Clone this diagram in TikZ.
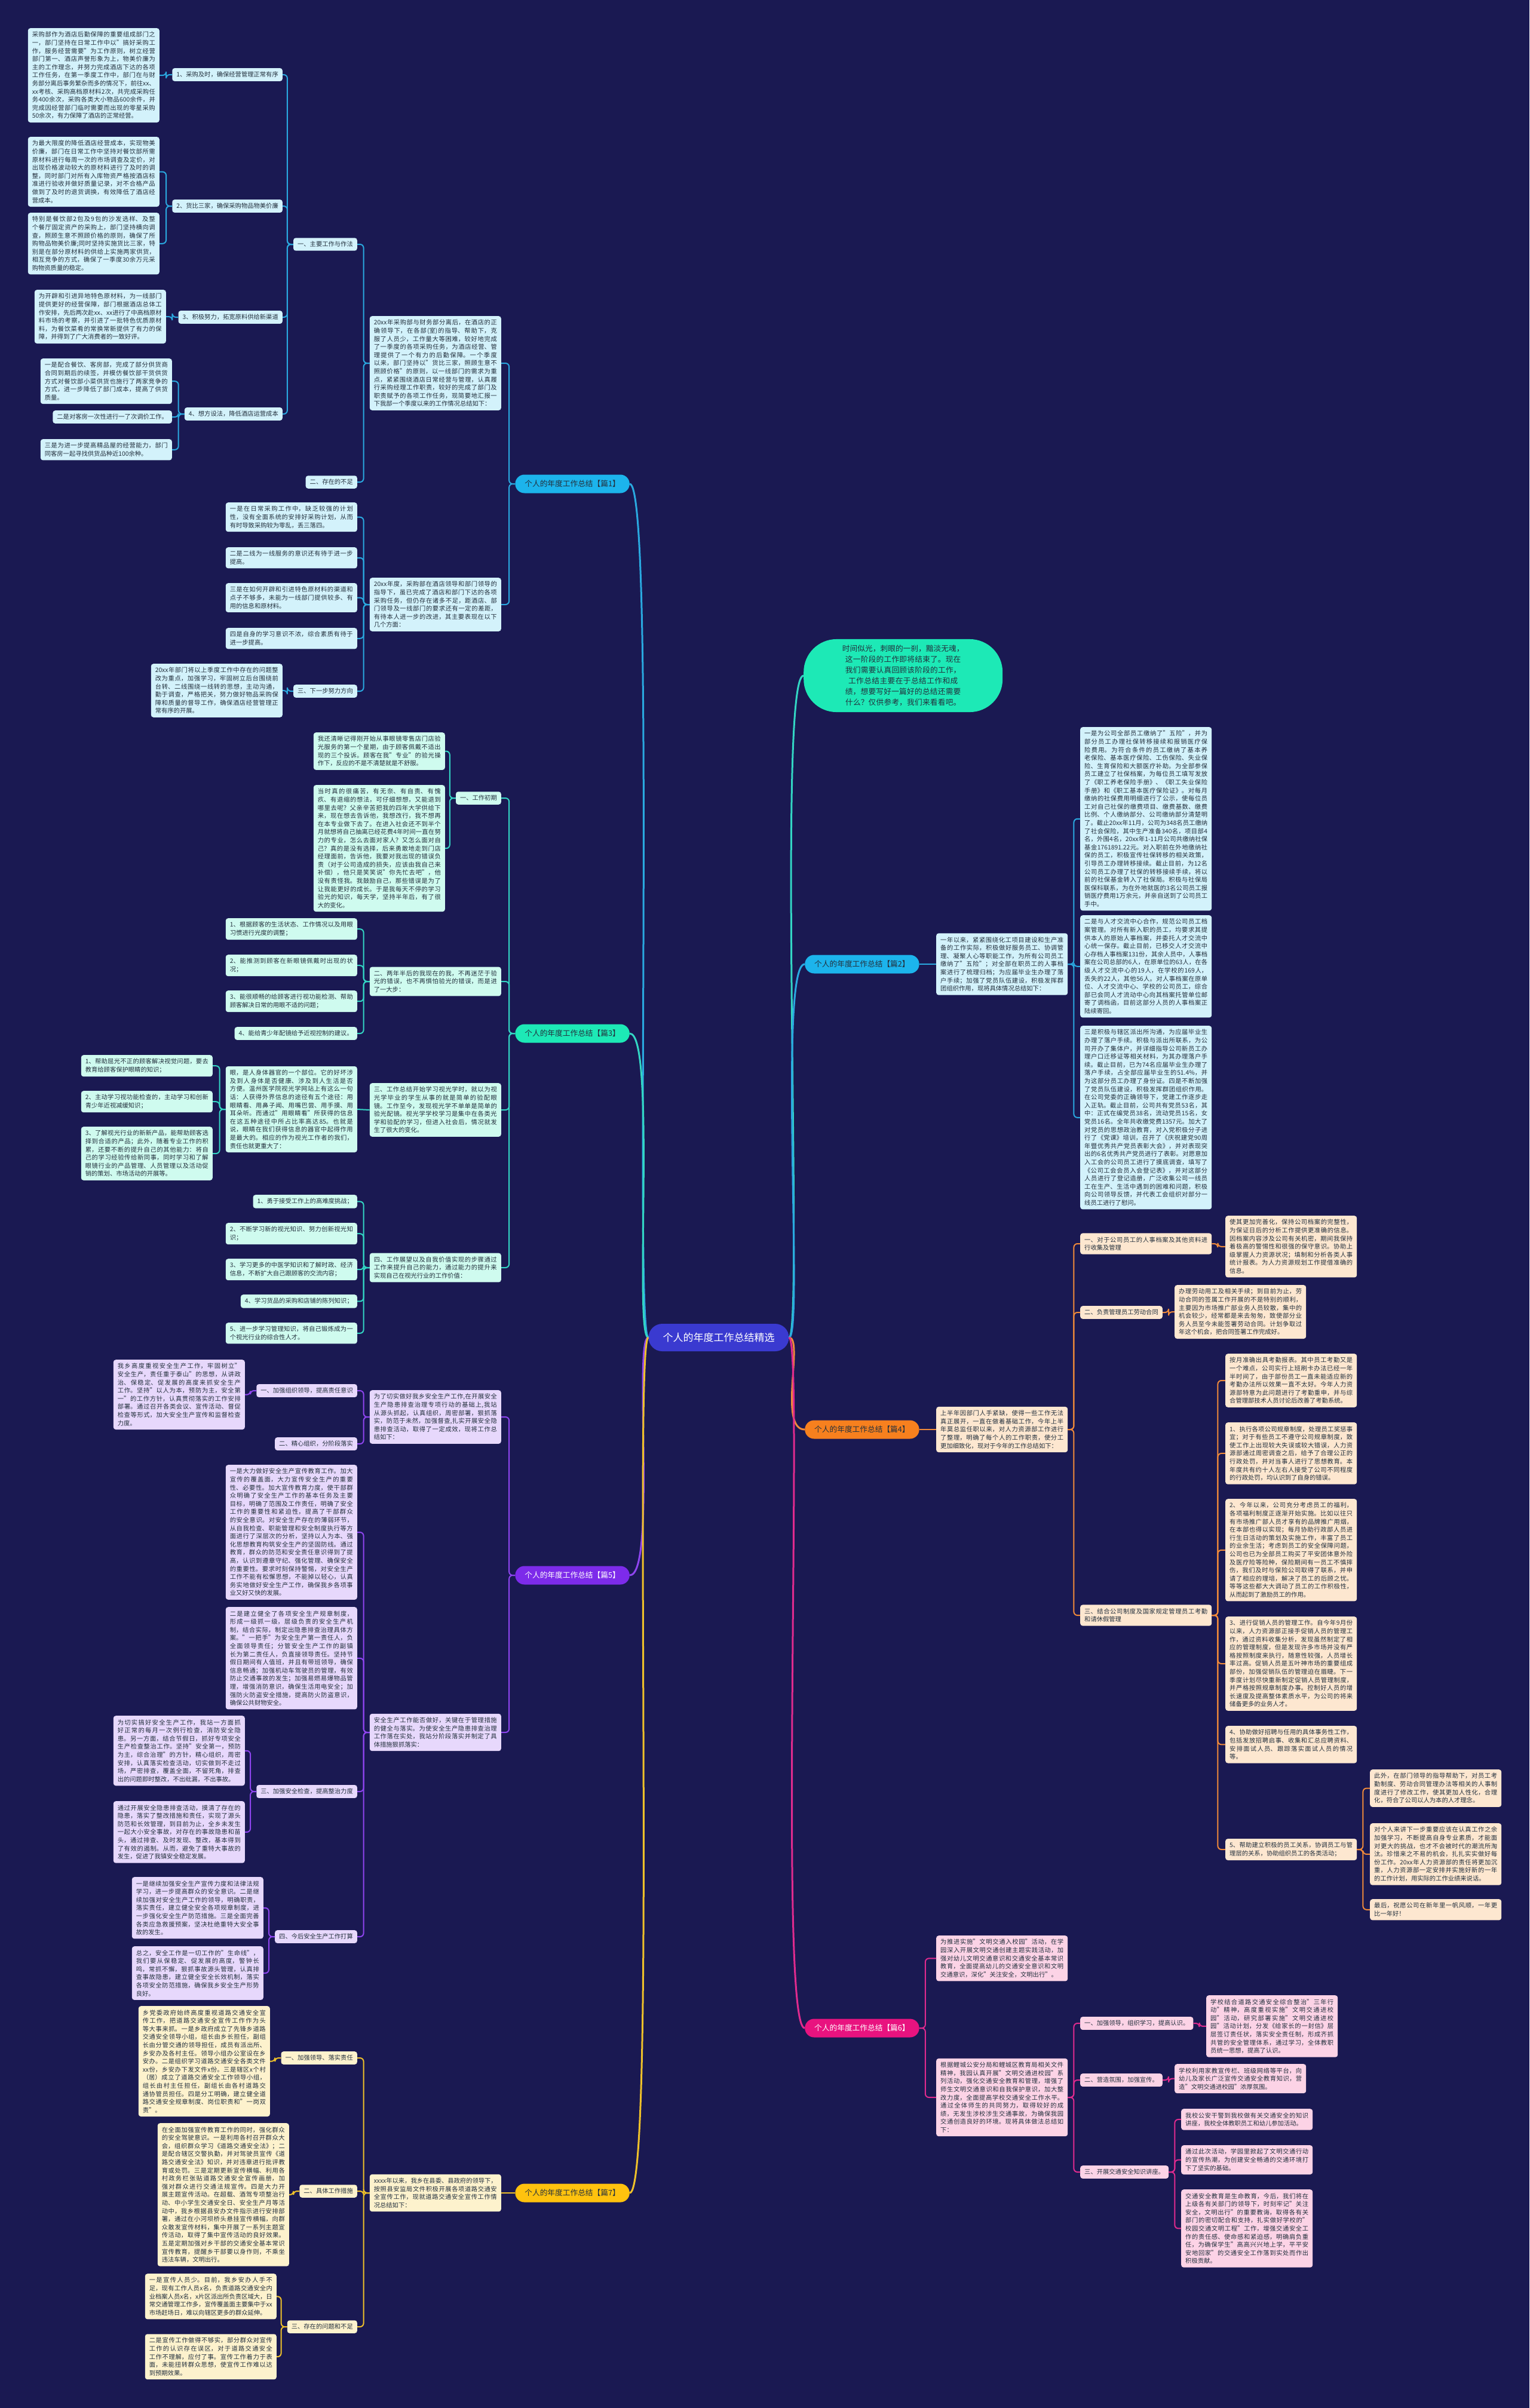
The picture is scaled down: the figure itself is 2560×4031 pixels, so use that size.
\documentclass[tikz,border=0pt]{standalone}
\usepackage{fontspec}
\setmainfont{Noto Sans CJK SC}
\usetikzlibrary{positioning}
\XeTeXlinebreaklocale "zh"
\XeTeXlinebreakskip=0pt plus 1pt
\definecolor{bgnavy}{HTML}{1A1952}
\definecolor{hubblue}{HTML}{3A3AD0}
\definecolor{inktext}{HTML}{23303D}
\definecolor{pianA}{HTML}{1CB4EC}
\definecolor{lineA}{HTML}{2AA9E0}
\definecolor{leafA}{HTML}{D3F2FB}
\definecolor{pianB}{HTML}{1DE9B6}
\definecolor{lineB}{HTML}{33D6C4}
\definecolor{leafB}{HTML}{CFFBEF}
\definecolor{pianC}{HTML}{F7801E}
\definecolor{lineC}{HTML}{F08A3A}
\definecolor{leafC}{HTML}{FDE7D0}
\definecolor{pianD}{HTML}{7D2BEA}
\definecolor{lineD}{HTML}{8F45F0}
\definecolor{leafD}{HTML}{E7D8FC}
\definecolor{pianE}{HTML}{E8137F}
\definecolor{lineE}{HTML}{E02B8E}
\definecolor{leafE}{HTML}{FCD3E6}
\definecolor{pianF}{HTML}{FFC20E}
\definecolor{lineF}{HTML}{EFC12A}
\definecolor{leafF}{HTML}{FDF2CD}
\newcommand\leafsize{\fontsize{10.3pt}{13.6pt}\selectfont}
\newcommand\piansize{\fontsize{12.7pt}{15pt}\selectfont}
\newcommand\hubsize{\fontsize{17pt}{20pt}\selectfont}
\newcommand\introsize{\fontsize{12.7pt}{18pt}\selectfont}
\tikzset{
  box/.style={rounded corners=4pt, inner xsep=7pt, inner ysep=6pt, text=inktext, font=\leafsize},
  para/.style={box, text width=206pt, align=justify},
  tag/.style={box},
  pian/.style={rounded corners=15.5pt, minimum height=31pt, inner xsep=16pt, text=inktext, font=\piansize},
  hub/.style={rounded corners=23pt, minimum height=46pt, inner xsep=24pt, fill=hubblue, text=white, font=\hubsize},
  introbox/.style={rounded corners=55pt, fill=pianB, text=inktext, font=\introsize, text width=205pt, align=center, inner xsep=64pt, inner ysep=10pt},
  link/.style={line width=2pt, rounded corners=6pt},
  spoke/.style={line width=3pt},
}
\begin{document}
\begin{tikzpicture}[x=1pt,y=-1pt]
\fill[bgnavy] (0,0) rectangle (2560,4031);
\useasboundingbox (0,0) rectangle (2560,4031);

\node[hub] (hub) at (1203,2239) {个人的年度工作总结精选};

% intro
\node[introbox, anchor=west] (intro) at (1345,1131) {时间似光，刺眼的一刹，黯淡无魂，这一阶段的工作即将结束了。现在我们需要认真回顾该阶段的工作，工作总结主要在于总结工作和成绩，想要写好一篇好的总结还需要什么？仅供参考，我们来看看吧。};

% ---------- 篇1
\begin{scope}[box/.append style={fill=leafA}, link/.append style={draw=lineA}]
\node[pian, fill=pianA, anchor=east] (b1) at (1054,810) {个人的年度工作总结【篇1】};
\node[para, anchor=east] (p1a) at (839,608) {20xx年采购部与财务部分离后，在酒店的正确领导下，在各部(室)的指导、帮助下，克服了人员少，工作量大等困难，较好地完成了一季度的各项采购任务，为酒店经营、管理提供了一个有力的后勤保障。一个季度以来，部门坚持以"货比三家，照顾生意不照顾价格"的原则，以一线部门的需求为重点，紧紧围绕酒店日常经营与管理，认真履行采购经理工作职责，较好的完成了部门及职责赋予的各项工作任务，现简要地汇报一下我部一个季度以来的工作情况总结如下：};
\node[para, anchor=east] (p1b) at (839,1012) {20xx年度，采购部在酒店领导和部门领导的指导下，虽已完成了酒店和部门下达的各项采购任务，但仍存在诸多不足，距酒店、部门领导及一线部门的要求还有一定的差距，有待本人进一步的改进，其主要表现在以下几个方面：};
\node[tag, anchor=east] (zy) at (598,409) {一、主要工作与作法};
\node[tag, anchor=east] (bz) at (598,807) {二、存在的不足};
\node[tag, anchor=east] (zy1) at (473,125) {1、采购及时，确保经营管理正常有序};
\node[tag, anchor=east] (zy2) at (473,345) {2、货比三家，确保采购物品物美价廉};
\node[tag, anchor=east] (zy3) at (473,531) {3、积极努力，拓宽原料供给新渠道};
\node[tag, anchor=east] (zy4) at (473,693) {4、想方设法，降低酒店运营成本};
\node[para, anchor=north east] (cg1) at (267,47) {采购部作为酒店后勤保障的重要组成部门之一，部门坚持在日常工作中以"搞好采购工作，服务经营需要"为工作原则，树立经营部门第一、酒店声誉形象为上，物美价廉为主的工作理念，并努力完成酒店下达的各项工作任务，在第一季度工作中，部门在与财务部分离后事务繁杂而多的情况下，前往xx、xx考核、采购高档原材料2次，共完成采购任务400余次，采购各类大小物品600余件，并完成因经营部门临时需要而出现的零星采购50余次，有力保障了酒店的正常经营。};
\node[para, anchor=north east] (cg2) at (267,229) {为最大限度的降低酒店经营成本，实现物美价廉，部门在日常工作中坚持对餐饮部所需原材料进行每周一次的市场调查及定价，对出现价格波动较大的原材料进行了及时的调整，同时部门对所有入库物资严格按酒店标准进行验收并做好质量记录，对不合格产品做到了及时的退货调换，有效降低了酒店经营成本。};
\node[para, anchor=north east] (cg3) at (267,356) {特别是餐饮部2包及9包的沙发选样、及整个餐厅固定资产的采购上，部门坚持横向调查，照顾生意不照顾价格的原则，确保了所购物品物美价廉;同时坚持实施货比三家，特别是在部分原材料的供给上实施两家供货，相互竞争的方式，确保了一季度30余万元采购物资质量的稳定。};
\node[para, anchor=north east] (cg4) at (278,485) {为开辟和引进异地特色原材料，为一线部门提供更好的经营保障，部门根据酒店总体工作安排，先后两次赴xx、xx进行了中高档原材料市场的考察，并引进了一批特色优质原材料，为餐饮菜肴的常换常新提供了有力的保障，并得到了广大消费者的一致好评。};
\node[para, anchor=north east] (cg5) at (288,600) {一是配合餐饮、客房部，完成了部分供货商合同到期后的续签，并模仿餐饮部干货供货方式对餐饮部小菜供货也施行了两家竞争的方式，进一步降低了部门成本，提高了供货质量。};
\node[tag, anchor=north east] (cg6) at (288,687) {二是对客房一次性进行一了次调价工作。};
\node[para, anchor=north east] (cg7) at (288,735) {三是为进一步提高精品屋的经营能力，部门同客房一起寻找供货品种近100余种。};
\node[para, anchor=north east] (bz1) at (598,841) {一是在日常采购工作中，缺乏较强的计划性，没有全面系统的安排好采购计划，从而有时导致采购较为零乱，丢三落四。};
\node[para, anchor=north east] (bz2) at (598,916) {二是二线为一线服务的意识还有待于进一步提高。};
\node[para, anchor=north east] (bz3) at (598,976) {三是在如何开辟和引进特色原材料的渠道和点子不够多，未能为一线部门提供较多、有用的信息和原材料。};
\node[para, anchor=north east] (bz4) at (598,1051) {四是自身的学习意识不浓，综合素质有待于进一步提高。};
\node[tag, anchor=east] (fx) at (598,1157) {三、下一步努力方向};
\node[para, anchor=north east] (fx1) at (473,1111) {20xx年部门将以上季度工作中存在的问题整改为重点，加强学习，牢固树立后台围绕前台转、二线围绕一线转的思想，主动沟通，勤于调查，严格把关，努力做好物品采购保障和质量的督导工作，确保酒店经营管理正常有序的开展。};
\foreach \c in {p1a,p1b} \draw[link] (b1.west) -- ++(-10,0) |- (\c.east);
\foreach \c in {zy,bz} \draw[link] (p1a.west) -- ++(-10,0) |- (\c.east);
\foreach \c in {zy1,zy2,zy3,zy4} \draw[link] (zy.west) -- ++(-10,0) |- (\c.east);
\draw[link] (zy1.west) -- ++(-10,0) |- (cg1.east);
\foreach \c in {cg2,cg3} \draw[link] (zy2.west) -- ++(-10,0) |- (\c.east);
\draw[link] (zy3.west) -- ++(-10,0) |- (cg4.east);
\foreach \c in {cg5,cg6,cg7} \draw[link] (zy4.west) -- ++(-10,0) |- (\c.east);
\foreach \c in {bz1,bz2,bz3,bz4,fx} \draw[link] (p1b.west) -- ++(-10,0) |- (\c.east);
\draw[link] (fx.west) -- ++(-10,0) |- (fx1.east);
\end{scope}

% ---------- 篇2
\begin{scope}[box/.append style={fill=leafA}, link/.append style={draw=lineA}]
\node[pian, fill=pianA, anchor=west] (b2) at (1347,1614) {个人的年度工作总结【篇2】};
\node[para, anchor=west] (p2) at (1567,1614) {一年以来，紧紧围绕化工项目建设和生产准备的工作实际，积极做好服务员工、协调管理、凝聚人心等职能工作，为所有公司员工缴纳了"五险"；对全部在职员工的人事档案进行了梳理归档；为应届毕业生办理了落户手续；加强了党员队伍建设，积极发挥群团组织作用，现将具体情况总结如下：};
\node[para, anchor=north west] (p2a) at (1808,1217) {一是为公司全部员工缴纳了"五险"，并为部分员工办理社保转移接续和报销医疗保险费用。为符合条件的员工缴纳了基本养老保险、基本医疗保险、工伤保险、失业保险、生育保险和大额医疗补助。为全部参保员工建立了社保档案，为每位员工填写发放了《职工养老保险手册》、《职工失业保险手册》和《职工基本医疗保险证》。对每月缴纳的社保费用明细进行了公示，使每位员工对自己社保的缴费项目、缴费基数、缴费比例、个人缴纳部分、公司缴纳部分清楚明了。截止20xx年11月，公司为348名员工缴纳了社会保险，其中生产准备340名，项目部4名，外围4名，20xx年1-11月公司共缴纳社保基金1761891.22元。对入职前在外地缴纳社保的员工，积极宣传社保转移的相关政策，引导员工办理转移接续。截止目前，为12名公司员工办理了社保的转移接续手续，将以前的社保基金转入了社保局。积极与社保局医保科联系，为在外地就医的3名公司员工报销医疗费用1万余元，并亲自送到了公司员工手中。};
\node[para, anchor=north west] (p2b) at (1808,1532) {二是与人才交流中心合作，规范公司员工档案管理。对所有新入职的员工，均要求其提供本人的原始人事档案，并委托人才交流中心统一保存。截止目前，已移交人才交流中心存档人事档案131份，其余人员中，人事档案在公司总部的6人，在原单位的63人，在各级人才交流中心的19人，在学校的169人，丢失的22人，其他56人。对人事档案在原单位、人才交流中心、学校的公司员工，综合部已会同人才流动中心向其档案托管单位邮寄了调档函，目前这部分人员的人事档案正陆续寄回。};
\node[para, anchor=north west] (p2c) at (1808,1717) {三是积极与辖区派出所沟通，为应届毕业生办理了落户手续。积极与派出所联系，为公司开办了集体户，并详细指导公司新员工办理户口迁移证等相关材料，为其办理落户手续。截止目前，已为74名应届毕业生办理了落户手续，占全部应届毕业生的51.4\%，并为这部分员工办理了身份证。四是不断加强了党员队伍建设，积极发挥群团组织作用。在公司党委的正确领导下，党建工作逐步走入正轨。截止目前，公司共有党员53名，其中：正式在编党员38名，流动党员15名，女党员16名。全年共收缴党费1357元。加大了对党员的思想政治教育，对入党积极分子进行了《党课》培训，召开了《庆祝建党90周年暨优秀共产党员表彰大会》，并对表现突出的6名优秀共产党员进行了表彰。对愿意加入工会的公司员工进行了摸底调查，填写了《公司工会会员入会登记表》，并对这部分人员进行了登记造册，广泛收集公司一线员工在生产、生活中遇到的困难和问题，积极向公司领导反馈，并代表工会组织对部分一线员工进行了慰问。};
\draw[link] (b2.east) -- (p2.west);
\foreach \c in {p2a,p2b,p2c} \draw[link] (p2.east) -- ++(10,0) |- (\c.west);
\end{scope}

% ---------- 篇3
\begin{scope}[box/.append style={fill=leafB}, link/.append style={draw=lineB}]
\node[pian, fill=pianB, anchor=east] (b3) at (1054,1730) {个人的年度工作总结【篇3】};
\node[tag, anchor=east] (cq) at (839,1336) {一、工作初期};
\node[para, anchor=north east] (cq1) at (745,1226) {我还清晰记得刚开始从事眼镜零售店门店验光服务的第一个星期，由于顾客佩戴不适出现的三个投诉。顾客在我"专业"的验光操作下，反应的不是不清楚就是不舒服。};
\node[para, anchor=north east] (cq2) at (745,1314) {当时真的很痛苦，有无奈、有自责、有愧疚、有退缩的想法，可仔细想想，又能退到哪里去呢？父亲辛苦把我的四年大学供给下来，现在想去告诉他，我想改行，我不想再在本专业做下去了。在进入社会还不到半个月就想将自己抽离已经花费4年时间一直在努力的专业，怎么去面对家人？又怎么面对自己？真的是没有选择，后来勇敢地走到门店经理面前，告诉他，我要对我出现的错误负责（对于公司造成的损失，应该由我自己来补偿），他只是笑笑说"你先忙去吧"，他没有责怪我。我鼓励自己，那些错误是为了让我能更好的成长。于是我每天不停的学习验光的知识，每天学，坚持半年后，有了很大的变化。};
\node[para, anchor=east] (lh) at (839,1643) {二、两年半后的我现在的我，不再迷茫于验光的错误，也不再惧怕验光的错误，而是进了一大步：};
\node[para, anchor=north east] (lh1) at (598,1537) {1、根据顾客的生活状态、工作情况以及用眼习惯进行光度的调整；};
\node[para, anchor=north east] (lh2) at (598,1598) {2、能推测到顾客在新眼镜佩戴时出现的状况；};
\node[para, anchor=north east] (lh3) at (598,1658) {3、能很顺畅的给顾客进行视功能检测、帮助顾客解决日常的用眼不适的问题；};
\node[tag, anchor=north east] (lh4) at (598,1719) {4、能给青少年配镜给予近视控制的建议。};
\node[para, anchor=east] (zj) at (839,1858) {三、工作总结开始学习视光学时，就以为视光学毕业的学生从事的就是简单的验配眼镜。工作至今，发现视光学不单单是简单的验光配镜。视光学学校学习是集中在各类光学和验配的学习，但进入社会后，情况就发生了很大的变化。};
\node[para, anchor=east] (yan) at (598,1857) {眼，是人身体器官的一个部位。它的好坏涉及到人身体是否健康、涉及到人生活是否方便。温州医学院视光学网站上有这么一句话：人获得外界信息的途径有五个途径：用眼睛看、用鼻子闻、用嘴巴尝、用手摸、用耳朵听。而通过"用眼睛看"所获得的信息在这五种途径中所占比率高达85。也就是说，眼睛在我们获得信息的器官中起得作用是最大的。相应的作为视光工作者的我们，责任也就更重大了：};
\node[para, anchor=north east] (yan1) at (356,1766) {1、帮助屈光不正的顾客解决视觉问题，要去教育给顾客保护眼睛的知识；};
\node[para, anchor=north east] (yan2) at (356,1826) {2、主动学习视功能检查的，主动学习和创新青少年近视减缓知识；};
\node[para, anchor=north east] (yan3) at (356,1886) {3、了解视光行业的新新产品，能帮助顾客选择到合适的产品；此外，随着专业工作的积累，还要不断的提升自己的其他能力：将自己的学习经验传给新同事，同时学习和了解眼镜行业的产品管理、人员管理以及活动促销的策划、市场活动的开展等。};
\node[para, anchor=east] (zw) at (839,2122) {四、工作展望以及自我价值实现的步骤通过工作来提升自己的能力，通过能力的提升来实现自己在视光行业的工作价值：};
\node[tag, anchor=north east] (zw1) at (598,2000) {1、勇于接受工作上的高难度挑战；};
\node[para, anchor=north east] (zw2) at (598,2047) {2、不断学习新的视光知识、努力创新视光知识；};
\node[para, anchor=north east] (zw3) at (598,2107) {3、学习更多的中医学知识和了解时政、经济信息，不断扩大自己跟顾客的交流内容；};
\node[tag, anchor=north east] (zw4) at (598,2167) {4、学习货品的采购和店铺的陈列知识；};
\node[para, anchor=north east] (zw5) at (598,2214) {5、进一步学习管理知识，将自己锻炼成为一个视光行业的综合性人才。};
\foreach \c in {cq,lh,zj,zw} \draw[link] (b3.west) -- ++(-10,0) |- (\c.east);
\foreach \c in {cq1,cq2} \draw[link] (cq.west) -- ++(-10,0) |- (\c.east);
\foreach \c in {lh1,lh2,lh3,lh4} \draw[link] (lh.west) -- ++(-10,0) |- (\c.east);
\draw[link] (zj.west) -- (yan.east);
\foreach \c in {yan1,yan2,yan3} \draw[link] (yan.west) -- ++(-10,0) |- (\c.east);
\foreach \c in {zw1,zw2,zw3,zw4,zw5} \draw[link] (zw.west) -- ++(-10,0) |- (\c.east);
\end{scope}

% ---------- 篇4
\begin{scope}[box/.append style={fill=leafC}, link/.append style={draw=lineC}]
\node[pian, fill=pianC, anchor=west] (b4) at (1347,2393) {个人的年度工作总结【篇4】};
\node[para, anchor=west] (rz) at (1567,2393) {上半年因部门人手紧缺，使得一些工作无法真正展开，一直在做着基础工作，今年上半年莫总监任职以来，对人力资源部工作进行了整理，明确了每个人的工作职责，使分工更加细致化，现对于今年的工作总结如下：};
\node[para, anchor=west] (da) at (1808,2082) {一、对于公司员工的人事档案及其他资料进行收集及管理};
\node[para, anchor=north west] (da1) at (2051,2035) {使其更加完善化，保持公司档案的完整性，为保证日后的分析工作提供更准确的信息。因档案内容涉及公司有关机密，期间我保持着极高的警惕性和很强的保守意识。协助上级掌握人力资源状况；填制和分析各类人事统计报表。为人力资源规划工作提借准确的信息。};
\node[tag, anchor=west] (ht) at (1808,2197) {二、负责管理员工劳动合同};
\node[para, anchor=north west] (ht1) at (1966,2151) {办理劳动用工及相关手续；到目前为止，劳动合同的签属工作开展的不是特别的顺利，主要因为市场推广部业务人员较散，集中的机会较少，经常都是来去匆匆，致使部分业务人员至今未能签署劳动合同。计划争取过年这个机会，把合同签署工作完成好。};
\node[para, anchor=west] (kq) at (1808,2704) {三、结合公司制度及国家规定管理员工考勤和请休假管理};
\node[para, anchor=north west] (kq0) at (2051,2266) {按月准确出具考勤报表。其中员工考勤又是一个难点，公司实行上班刷卡办法已经一年半时间了，由于部份员工一直未能适应新的考勤办法所以效果一直不太好。今年人力资源部特意为此问题进行了考勤重申，并与综合管理部技术人员讨论后改善了考勤系统。};
\node[para, anchor=north west] (kq1) at (2051,2381) {1、执行各项公司规章制度，处理员工奖惩事宜；对于有些员工不遵守公司规章制度，致使工作上出现较大失误或较大错误，人力资源部通过周密调查之后，给予了合理公正的行政处罚，并对当事人进行了思想教育。本年度共有约十人左右人接受了公司不同程度的行政处罚，均认识到了自身的错误。};
\node[para, anchor=north west] (kq2) at (2051,2509) {2、今年以来，公司充分考虑员工的福利，各项福利制度正逐渐开始实施。比如以往只有市场推广部人员才享有的品牌推广用烟，在本部也得以实现；每月协助行政部人员进行生日活动的策划及实施工作，丰富了员工的业余生活；考虑到员工的安全保障问题，公司也已为全部员工购买了平安团体意外险及医疗险等险种，保险期间有一员工不慎摔伤，我们及时与保险公司取得了联系，并申请了相应的理培，解决了员工的后顾之忧。等等这些都大大调动了员工的工作积极性，从而起到了激励员工的作用。};
\node[para, anchor=north west] (kq3) at (2051,2706) {3、进行促销人员的管理工作。自今年9月份以来，人力资源部正接手促销人员的管理工作，通过资料收集分析，发现虽然制定了相应的管理制度，但是发现许多市场并没有严格按照制度来执行，随意性较强，人员增长率过高。促销人员是五叶神市场的重要组成部份，加强促销队伍的管理迫在眉睫。下一季度计划尽快重新制定促销人员管理制度，并严格按照规章制度办事。控制好人员的增长速度及提高整体素质水平，为公司的将来储备更多的业务人才。};
\node[para, anchor=north west] (kq4) at (2051,2889) {4、协助做好招聘与任用的具体事务性工作，包括发放招聘启事、收集和汇总应聘资料、安排面试人员、跟踪落实面试人员的情况等。};
\node[para, anchor=west] (kq5) at (2051,3096) {5、帮助建立积极的员工关系，协调员工与管理层的关系，协助组织员工的各类活动；};
\node[para, anchor=north west] (gx1) at (2293,2962) {此外，在部门领导的指导帮助下，对员工考勤制度、劳动合同管理办法等相关的人事制度进行了修改工作，使其更加人性化，合理化，符合了公司以人为本的人才理念。};
\node[para, anchor=north west] (gx2) at (2293,3052) {对个人来讲下一步重要应该在认真工作之余加强学习，不断提高自身专业素质，才能面对更大的挑战，也才不会被时代的潮流所淘汰。珍惜来之不易的机会，扎扎实实做好每份工作。20xx年人力资源部的责任将更加沉重，人力资源部一定安排并实施好新的一年的工作计划，用实际的工作业绩来说话。};
\node[para, anchor=north west] (gx3) at (2293,3179) {最后，祝愿公司在新年里一帆风顺，一年更比一年好！};
\draw[link] (b4.east) -- (rz.west);
\foreach \c in {da,ht,kq} \draw[link] (rz.east) -- ++(10,0) |- (\c.west);
\draw[link] (da.east) -- ++(10,0) |- (da1.west);
\draw[link] (ht.east) -- ++(10,0) |- (ht1.west);
\foreach \c in {kq0,kq1,kq2,kq3,kq4,kq5} \draw[link] (kq.east) -- ++(10,0) |- (\c.west);
\foreach \c in {gx1,gx2,gx3} \draw[link] (kq5.east) -- ++(10,0) |- (\c.west);
\end{scope}

% ---------- 篇5
\begin{scope}[box/.append style={fill=leafD}, link/.append style={draw=lineD}]
\node[pian, fill=pianD, text=white, anchor=east] (b5) at (1054,2637) {个人的年度工作总结【篇5】};
\node[para, anchor=east] (aq) at (839,2372) {为了切实做好我乡安全生产工作,在开展安全生产隐患排查治理专项行动的基础上,我站从源头抓起，认真组织，周密部署，狠抓落实，防范于未然，加强督查,扎实开展安全隐患排查活动，取得了一定成效，现将工作总结如下：};
\node[tag, anchor=east] (aq1) at (598,2328) {一、加强组织领导，提高责任意识};
\node[para, anchor=north east] (aq1a) at (410,2276) {我乡高度重视安全生产工作，牢固树立"安全生产，责任重于泰山"的思想，从讲政治、保稳定、促发展的高度来抓安全生产工作。坚持"以人为本，预防为主，安全第一"的工作方针，认真贯彻落实的工作安排部署。通过召开各类会议、宣传活动、督促检查等形式，加大安全生产宣传和监督检查力度。};
\node[tag, anchor=east] (aq2) at (598,2417) {二、精心组织，分阶段落实};
\node[para, anchor=east] (cs) at (839,2900) {安全生产工作能否做好，关键在于管理措施的健全与落实。为使安全生产隐患排查治理工作落在实处，我站分阶段落实并制定了具体措施狠抓落实：};
\node[para, anchor=north east] (cs1) at (598,2452) {一是大力做好安全生产宣传教育工作。加大宣传的覆盖面，大力宣传安全生产的重要性、必要性。加大宣传教育力度，使干部群众明确了安全生产工作的基本任务及主要目标，明确了范围及工作责任，明确了安全工作的重要性和紧迫性，提高了干部群众的安全意识。对安全生产存在的薄弱环节，从自我检查、职能管理和安全制度执行等方面进行了深层次的分析，坚持以人为本、强化思想教育构筑安全生产的坚固防线。通过教育，群众的防范和安全责任意识得到了提高，认识到遵章守纪、强化管理、确保安全的重要性。要求时刻保持警惕，对安全生产工作不能有松懈思想，不能掉以轻心，认真务实地做好安全生产工作，确保我乡各项事业又好又快的发展。};
\node[para, anchor=north east] (cs2) at (598,2690) {二是建立健全了各项安全生产规章制度，形成一级抓一级，层级负责的安全生产机制，结合实际，制定出隐患排查治理具体方案。"一把手"为安全生产第一责任人，负全面领导责任；分管安全生产工作的副镇长为第二责任人，负直接领导责任。坚持节假日期间有人值班，并且有带班领导，确保信息畅通；加强机动车驾驶员的管理，有效防止交通事故的发生；加强易燃易爆物品管理，增强消防意识，确保生活用电安全；加强防火防盗安全措施，提高防火防盗意识，确保公共财物安全。};
\node[tag, anchor=east] (jc) at (598,2999) {三、加强安全检查，提高整治力度};
\node[para, anchor=north east] (jc1) at (410,2872) {为切实搞好安全生产工作，我站一方面抓好正常的每月一次例行检查，消防安全隐患。另一方面，结合节假日，抓好专项安全生产检查整治工作。坚持"安全第一，预防为主，综合治理"的方针，精心组织，周密安排，认真落实检查活动，切实做到不走过场，严密排查，覆盖全面，不留死角，排查出的问题即时整改，不出纰漏，不出事故。};
\node[para, anchor=north east] (jc2) at (410,3015) {通过开展安全隐患排查活动，摸清了存在的隐患，落实了整改措施和责任，实现了源头防范和长效管理，到目前为止，全乡未发生一起大小安全事故，对存在的事故隐患和苗头，通过排查、及时发现、整改，基本得到了有效的遏制。从而，避免了重特大事故的发生，促进了我镇安全稳定发展。};
\node[tag, anchor=east] (ds) at (598,3242) {四、今后安全生产工作打算};
\node[para, anchor=north east] (ds1) at (441,3142) {一是继续加强安全生产宣传力度和法律法规学习，进一步提高群众的安全意识。二是继续加强对安全生产工作的领导，明确职责，落实责任，建立健全安全各项规章制度，进一步强化安全生产防范措施。三是全面完善各类应急救援预案，坚决杜绝重特大安全事故的发生。};
\node[para, anchor=north east] (ds2) at (441,3258) {总之，安全工作是一切工作的"生命线"，我们要从保稳定、促发展的高度，警钟长鸣，常抓不懈，狠抓事故源头管理，认真排查事故隐患，建立健全安全长效机制，落实各项安全防范措施，确保我乡安全生产形势良好。};
\foreach \c in {aq,cs} \draw[link] (b5.west) -- ++(-10,0) |- (\c.east);
\foreach \c in {aq1,aq2} \draw[link] (aq.west) -- ++(-10,0) |- (\c.east);
\draw[link] (aq1.west) -- ++(-10,0) |- (aq1a.east);
\foreach \c in {cs1,cs2,jc,ds} \draw[link] (cs.west) -- ++(-10,0) |- (\c.east);
\foreach \c in {jc1,jc2} \draw[link] (jc.west) -- ++(-10,0) |- (\c.east);
\foreach \c in {ds1,ds2} \draw[link] (ds.west) -- ++(-10,0) |- (\c.east);
\end{scope}

% ---------- 篇6
\begin{scope}[box/.append style={fill=leafE}, link/.append style={draw=lineE}]
\node[pian, fill=pianE, text=white, anchor=west] (b6) at (1347,3395) {个人的年度工作总结【篇6】};
\node[para, anchor=north west] (xy) at (1567,3240) {为推进实施"文明交通入校园"活动，在学园深入开展文明交通创建主题实践活动，加强对幼儿文明交通意识和交通安全基本常识教育，全面提高幼儿的交通安全意识和文明交通意识，深化"关注安全，文明出行"。};
\node[para, anchor=west] (yj) at (1567,3511) {根据鲤城公安分局和鲤城区教育局相关文件精神，我园认真开展"文明交通进校园"系列活动，强化交通安全教育和管理，增强了师生文明交通意识和自我保护意识，加大整改力度，全面提高学校交通安全工作水平。通过全体师生的共同努力，取得较好的成绩，无发生涉校涉生交通事故，为确保我园交通创造良好的环境。现将具体做法总结如下：};
\node[tag, anchor=west] (yj1) at (1808,3387) {一、加强领导，组织学习，提高认识。};
\node[para, anchor=north west] (yj1a) at (2019,3340) {学校结合道路交通安全综合整治"三年行动"精神，高度重视实施"文明交通进校园"活动，研究部署实施"文明交通进校园"活动计划，分发《给家长的一封信》层层签订责任状，落实安全责任制，形成齐抓共管的安全管理体系，通过学习，全体教职员统一思想，提高了认识。};
\node[tag, anchor=west] (yj2) at (1808,3482) {二、营造氛围，加强宣传。};
\node[para, anchor=north west] (yj2a) at (1966,3455) {学校利用家教宣传栏、班级网络等平台，向幼儿及家长广泛宣传交通安全教育知识，营造"文明交通进校园"浓厚氛围。};
\node[tag, anchor=west] (yj3) at (1808,3636) {三、开展交通安全知识讲座。};
\node[para, anchor=north west] (yj3a) at (1977,3530) {我校公安干警到我校做有关交通安全的知识讲座，我校全体教职员工和幼儿参加活动。};
\node[para, anchor=north west] (yj3b) at (1977,3591) {通过此次活动，学园里掀起了文明交通行动的宣传热潮，为创建安全畅通的交通环境打下了坚实的基础。};
\node[para, anchor=north west] (yj3c) at (1977,3665) {交通安全教育是生命教育，今后，我们将在上级各有关部门的领导下，时刻牢记"关注安全，文明出行"的重要教诲，取得各有关部门的密切配合和支持，扎实做好学校的"校园交通文明工程"工作，增强交通安全工作的责任感、使命感和紧迫感，明确肩负重任，为确保学生"高高兴兴地上学，平平安安地回家"的交通安全工作落到实处而作出积极贡献。};
\foreach \c in {xy,yj} \draw[link] (b6.east) -- ++(10,0) |- (\c.west);
\foreach \c in {yj1,yj2,yj3} \draw[link] (yj.east) -- ++(10,0) |- (\c.west);
\draw[link] (yj1.east) -- ++(10,0) |- (yj1a.west);
\draw[link] (yj2.east) -- ++(10,0) |- (yj2a.west);
\foreach \c in {yj3a,yj3b,yj3c} \draw[link] (yj3.east) -- ++(10,0) |- (\c.west);
\end{scope}

% ---------- 篇7
\begin{scope}[box/.append style={fill=leafF}, link/.append style={draw=lineF}]
\node[pian, fill=pianF, anchor=east] (b7) at (1054,3671) {个人的年度工作总结【篇7】};
\node[para, anchor=east] (jt) at (839,3671) {xxxx年以来，我乡在县委、县政府的领导下，按照县安监局文件积极开展各项道路交通安全宣传工作，现就道路交通安全宣传工作情况总结如下：};
\node[tag, anchor=east] (jt1) at (598,3445) {一、加强领导、落实责任};
\node[para, anchor=north east] (jt1a) at (452,3358) {乡党委政府始终高度重视道路交通安全宣传工作，把道路交通安全宣传工作作为头等大事来抓。一是乡政府成立了先锋乡道路交通安全领导小组，组长由乡长担任，副组长由分管交通的领导担任，成员有派出所、乡安办及各村主任。领导小组办公室设在乡安办。二是组织学习道路交通安全各类文件xx份，乡安办下发文件x份。三是辖区x个村（居）成立了道路交通安全工作领导小组，组长由村主任担任，副组长由各村道路交通协管员担任。四是分工明确，建立健全道路交通安全规章制度、岗位职责和"一岗双责"。};
\node[tag, anchor=east] (jt2) at (598,3668) {二、具体工作措施};
\node[para, anchor=north east] (jt2a) at (484,3554) {在全面加强宣传教育工作的同时，强化群众的安全驾驶意识。一是利用各村召开群众大会，组织群众学习《道路交通安全法》；二是配合辖区交警执勤，并对驾驶员宣传《道路交通安全法》知识，并对违章进行批评教育或处罚。三是定期更新宣传横幅、利用各村政务栏张贴道路交通安全宣传画册，加强对群众进行交通法规宣传。四是大力开展主题宣传活动。在超载、酒驾专项整治行动、中小学生交通安全日、安全生产月等活动中，我乡根据县安办文件指示进行安排部署，通过在小河坝桥头悬挂宣传横幅，向群众散发宣传材料，集中开展了一系列主题宣传活动，取得了集中宣传活动的良好效果。五是定期加强对乡干部的交通安全基本常识宣传教育，提醒乡干部要以身作则，不乘坐违法车辆，文明出行。};
\node[tag, anchor=east] (jt3) at (598,3895) {三、存在的问题和不足};
\node[para, anchor=north east] (jt3a) at (463,3806) {一是宣传人员少。目前，我乡安办人手不足，现有工作人员x名，负责道路交通安全内业档案人员x名，x片区派出所负责区域大，日常交通管理工作多，宣传覆盖面主要集中于xx市场赶场日，难以向辖区更多的群众延伸。};
\node[para, anchor=north east] (jt3b) at (463,3907) {二是宣传工作做得不够实，部分群众对宣传工作的认识存在误区，对于道路交通安全工作不理解，应付了事。宣传工作着力于表面，未能扭转群众思想，使宣传工作难以达到预期效果。};
\draw[link] (b7.west) -- (jt.east);
\foreach \c in {jt1,jt2,jt3} \draw[link] (jt.west) -- ++(-10,0) |- (\c.east);
\draw[link] (jt1.west) -- ++(-10,0) |- (jt1a.east);
\draw[link] (jt2.west) -- ++(-10,0) |- (jt2a.east);
\foreach \c in {jt3a,jt3b} \draw[link] (jt3.west) -- ++(-10,0) |- (\c.east);
\end{scope}

% spokes from the hub
\draw[spoke, lineA] (hub.west) .. controls +(-25,0) and +(45,0) .. (b1.east);
\draw[spoke, lineB] (hub.west) .. controls +(-25,0) and +(45,0) .. (b3.east);
\draw[spoke, lineD] (hub.west) .. controls +(-25,0) and +(45,0) .. (b5.east);
\draw[spoke, lineF] (hub.west) .. controls +(-25,0) and +(45,0) .. (b7.east);
\draw[spoke, lineB] (hub.east) .. controls +(25,0) and +(-45,0) .. (intro.west);
\draw[spoke, lineA] (hub.east) .. controls +(25,0) and +(-45,0) .. (b2.west);
\draw[spoke, lineC] (hub.east) .. controls +(25,0) and +(-45,0) .. (b4.west);
\draw[spoke, lineE] (hub.east) .. controls +(25,0) and +(-45,0) .. (b6.west);
\end{tikzpicture}
\end{document}
